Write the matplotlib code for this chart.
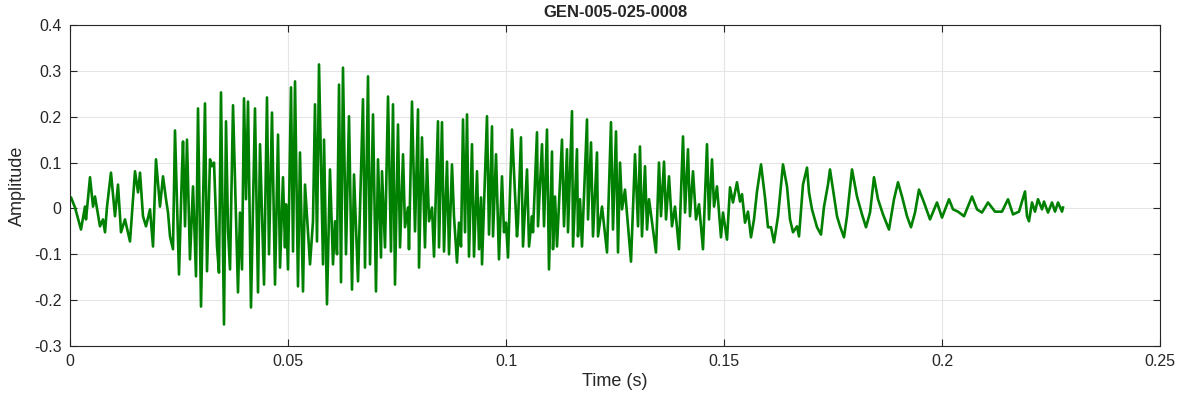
import matplotlib
matplotlib.use("Agg")
import matplotlib.pyplot as plt
import numpy as np

plt.rcParams['font.family'] = ['Liberation Sans', 'DejaVu Sans']
plt.rcParams['axes.unicode_minus'] = False

# signal (time in ms, amplitude)
t_onset = [0, 0.23, 1.15, 2.52, 3.44, 3.67, 4.59, 5.28, 5.73, 6.88, 7.57, 8.03, 8.49, 9.40,
           10.32, 11.01, 11.70, 12.61, 13.76, 14.91, 15.60, 16.06, 16.74, 17.43, 18.35,
           19.04, 19.72, 20.64, 21.33, 22.02]
a_onset = [0.022, 0.024, 0.002, -0.046, 0.004, -0.024, 0.068, 0.004, 0.026, -0.039, -0.024,
           -0.052, 0.004, 0.078, -0.017, 0.052, -0.052, -0.024, -0.072, 0.081, 0.035, 0.078,
           -0.017, -0.039, -0.002, -0.083, 0.107, 0.004, 0.070, 0.020]

t_strong = [22.48, 22.94, 23.62, 24.08, 25.00, 25.69, 25.92, 26.38, 26.83, 27.52, 28.21,
            28.90, 29.36, 30.05, 30.96, 31.42, 32.11, 32.57, 33.03, 33.72, 34.17, 34.63,
            35.32, 35.78, 36.24, 36.70, 37.39, 38.53, 38.99, 39.45, 39.91, 40.37, 40.83,
            41.51, 42.43, 43.12, 43.58, 44.50, 45.18, 45.64, 46.33, 47.02, 47.71, 48.17,
            48.85, 49.31, 49.54, 50.00, 50.69, 51.15, 51.61, 52.29, 52.75, 53.44, 53.90,
            55.05, 55.73, 56.19, 56.65, 57.11, 58.03, 58.26, 58.94, 59.63, 60.32, 60.78,
            61.24, 61.70, 62.16, 62.61, 63.30, 63.99, 64.68, 65.14, 66.06]
a_strong = [-0.009, -0.061, -0.089, 0.170, -0.144, 0.085, 0.146, -0.039, 0.150, -0.111,
            0.048, -0.148, 0.218, -0.214, 0.229, -0.137, 0.107, 0.092, 0.100, -0.083, -0.140,
            0.253, -0.253, 0.190, -0.046, -0.133, 0.225, -0.183, -0.009, -0.133, 0.240,
            0.020, 0.233, -0.216, 0.218, -0.183, 0.140, -0.166, 0.242, -0.100, 0.209,
            -0.166, 0.161, -0.129, 0.068, -0.085, 0.009, -0.133, 0.264, -0.094, 0.277,
            -0.170, 0.122, -0.181, 0.052, -0.122, -0.028, 0.227, -0.072, 0.314, -0.122,
            0.150, -0.209, 0.085, -0.122, -0.028, -0.100, 0.270, -0.161, 0.307, -0.100,
            0.201, -0.177, 0.074, -0.159]

t_mid = [67.20, 67.66, 68.35, 68.81, 69.50, 70.18, 70.64, 71.33, 71.56, 72.25, 72.94, 73.62,
         74.08, 74.54, 75.23, 75.69, 76.38, 76.83, 77.52, 77.75, 78.44, 79.13, 79.82, 80.05,
         80.73, 81.42, 81.88, 82.34, 83.03, 83.49, 84.40, 84.63, 85.32, 85.78, 86.47, 86.93,
         87.61, 88.07, 88.76, 89.22, 89.68, 90.14, 90.60, 91.06, 91.51, 92.20, 92.66, 93.35,
         93.81, 94.27, 94.50, 95.64, 96.10, 96.79, 97.02, 97.71, 98.39, 99.08, 99.54,
         100.00, 100.46, 101.38, 102.52, 102.75, 103.44, 103.90, 104.82, 105.28, 105.96,
         106.19, 107.11, 107.34, 108.26, 108.72, 109.40, 109.86]
a_mid = [0.238, -0.129, 0.288, -0.122, 0.205, -0.181, 0.107, -0.107, 0.081, -0.085, 0.244,
         -0.094, 0.227, -0.166, 0.183, -0.085, 0.118, -0.041, 0.002, -0.089, 0.233, -0.050,
         0.216, -0.129, 0.155, -0.085, 0.107, -0.028, 0.002, -0.105, 0.190, -0.085, 0.188,
         -0.094, 0.102, -0.100, 0.096, -0.017, -0.118, -0.031, -0.083, 0.194, -0.052, 0.205,
         -0.105, 0.140, -0.105, 0.081, -0.089, 0.024, -0.122, 0.201, -0.057, 0.179, -0.061,
         0.118, -0.111, 0.070, -0.052, -0.031, -0.107, 0.172, -0.061, -0.031, 0.155, -0.083,
         0.085, -0.083, -0.017, -0.052, 0.166, -0.039, 0.140, -0.039, 0.172, -0.133]

t_late = [110.55, 110.78, 111.24, 111.70, 112.84, 113.30, 113.99, 114.22, 115.14, 115.37,
          116.28, 116.51, 116.97, 117.43, 118.58, 118.81, 119.50, 119.95, 120.87, 121.10,
          122.02, 123.17, 124.08, 124.54, 125.23, 125.69, 126.15, 126.61, 127.29, 128.67,
          129.59, 130.28, 130.73, 131.19, 131.88, 132.34, 132.80, 134.40, 135.09, 135.55,
          136.24, 136.70, 137.39, 138.07, 138.76, 139.68, 140.60, 141.06, 141.74, 142.20,
          142.89, 143.58, 144.27, 145.18, 146.10, 146.56, 147.25, 147.71, 148.39, 149.31,
          149.77, 150.69, 151.38, 152.06, 152.98]
a_late = [0.124, -0.089, 0.026, -0.083, 0.150, -0.039, 0.129, -0.052, 0.212, -0.083, 0.129,
          -0.061, 0.020, -0.083, 0.194, -0.024, 0.144, -0.061, 0.122, -0.061, 0.004, -0.096,
          0.188, -0.046, 0.168, -0.096, 0.100, -0.002, 0.041, -0.116, 0.118, -0.039, 0.135,
          -0.061, 0.092, -0.046, 0.020, -0.096, 0.100, -0.017, 0.102, -0.024, 0.070, -0.039,
          0.004, -0.089, 0.157, -0.009, 0.129, -0.017, 0.081, -0.024, 0.009, -0.089, 0.140,
          -0.024, 0.107, 0.004, 0.048, -0.063, -0.009, -0.068, 0.046, 0.013, 0.057]

t_tail = [153.67, 154.13, 154.82, 155.50, 156.19, 156.88, 157.57, 158.49, 159.40, 160.09,
          160.78, 161.47, 162.39, 163.53, 164.45, 165.14, 165.83, 166.74, 167.20, 168.12,
          169.04, 169.50, 170.18, 171.33, 172.25, 172.94, 173.85, 174.31, 175.00, 175.92,
          176.61, 177.52, 178.21, 179.36, 180.50, 181.65, 182.57, 183.49, 184.40, 185.32,
          186.47, 187.84, 188.99, 189.91, 190.83, 191.97, 192.89, 193.81, 194.72, 195.87,
          197.25, 198.85, 200.00, 201.61, 202.52, 203.67, 205.05, 206.88, 208.03, 209.17,
          210.55, 212.16, 213.76, 215.14, 216.28, 217.66, 219.04, 219.50, 219.95, 220.64,
          221.33, 222.02, 222.94, 223.39, 224.31, 225.23, 225.92, 226.61, 227.52, 227.75]
a_tail = [0.015, 0.031, -0.031, -0.007, -0.063, -0.024, 0.037, 0.096, 0.024, -0.041, -0.041,
          -0.074, -0.017, 0.096, 0.048, -0.024, -0.052, -0.039, -0.061, 0.052, 0.089, 0.035,
          -0.002, -0.041, -0.057, 0.004, 0.052, 0.085, 0.041, -0.017, -0.039, -0.063, -0.017,
          0.085, 0.026, -0.013, -0.041, -0.009, 0.068, 0.020, -0.013, -0.046, 0.020, 0.057,
          0.026, -0.017, -0.041, -0.009, 0.041, 0.013, -0.024, 0.013, -0.020, 0.020, -0.002,
          -0.007, -0.017, 0.026, -0.002, -0.009, 0.013, -0.007, -0.007, 0.020, -0.013, -0.007,
          0.037, -0.017, -0.028, 0.013, -0.007, 0.020, -0.002, 0.015, -0.009, 0.013, -0.007,
          0.013, -0.007, 0.002]

title = "GEN-005-025-0008"
x_ticks = [0, 0.05, 0.1, 0.15, 0.2, 0.25]
y_ticks = [-0.3, -0.2, -0.1, 0, 0.1, 0.2, 0.3, 0.4]

t = np.array(t_onset + t_strong + t_mid + t_late + t_tail) / 1000.0
amp = np.array(a_onset + a_strong + a_mid + a_late + a_tail)

fig = plt.figure(figsize=(11.82, 4.04), dpi=100)
ax = fig.add_axes([70 / 1182, 1 - 346 / 404, 1090 / 1182, 321 / 404])

ax.plot(t, amp, color='#008000', linewidth=1.9, solid_joinstyle='round')

ax.set_xlim(0, 0.25)
ax.set_ylim(-0.3, 0.4)
ax.set_xticks(x_ticks)
ax.set_yticks(y_ticks)
ax.set_xticklabels(['%g' % v for v in x_ticks])
ax.set_yticklabels(['%g' % v for v in y_ticks])
ax.grid(True, color='#e5e5e5', linewidth=0.8)
ax.set_axisbelow(True)
ax.tick_params(direction='in', length=5, labelsize=11.5, colors='#262626',
               top=True, right=True, pad=6)
for s in ax.spines.values():
    s.set_color('#262626')
    s.set_linewidth(0.8)

ax.set_xlabel('Time (s)', fontsize=13, color='#262626', labelpad=3)
ax.set_ylabel('Amplitude', fontsize=13, color='#262626', labelpad=6)
ax.set_title(title, fontsize=12, fontweight='bold', color='#262626', pad=6)

fig.savefig('out.png', dpi=100)
